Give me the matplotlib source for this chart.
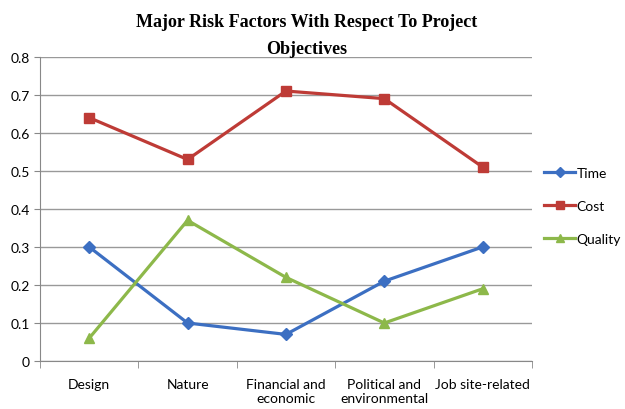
import matplotlib.pyplot as plt

categories = ['Design', 'Nature', 'Financial and\neconomic', 'Political and\nenvironmental', 'Job site-related']
time_vals = [0.30, 0.10, 0.07, 0.21, 0.30]
cost_vals = [0.64, 0.53, 0.71, 0.69, 0.51]
quality_vals = [0.06, 0.37, 0.22, 0.10, 0.19]

plt.rcParams['font.family'] = ['Lato', 'DejaVu Sans']

fig = plt.figure(figsize=(6.25, 4.10), dpi=100)
ax = fig.add_axes([0.064, 0.117, 0.787, 0.742])

x = list(range(len(categories)))
ax.plot(x, time_vals, color='#3C6FC2', marker='D', markersize=6, linewidth=2.3, label='Time')
ax.plot(x, cost_vals, color='#BE3B36', marker='s', markersize=7, linewidth=2.3, label='Cost')
ax.plot(x, quality_vals, color='#8DB84A', marker='^', markersize=7, linewidth=2.3, label='Quality')

ax.set_xlim(-0.5, len(categories) - 0.5)
ax.set_ylim(0, 0.8)
ax.set_yticks([0, 0.1, 0.2, 0.3, 0.4, 0.5, 0.6, 0.7, 0.8])
ax.set_yticklabels(['0', '0.1', '0.2', '0.3', '0.4', '0.5', '0.6', '0.7', '0.8'])
ax.set_xticks(x)
ax.set_xticklabels(categories)
ax.set_xticks([i - 0.5 for i in range(len(categories) + 1)], minor=True)
ax.tick_params(axis='x', which='major', length=0, pad=12, labelsize=10)
ax.tick_params(axis='x', which='minor', length=5, color='#888888')
ax.tick_params(axis='y', length=4, color='#888888', labelsize=10)
ax.yaxis.grid(True, color='#999999', linewidth=1)
ax.set_axisbelow(True)
for s in ['top', 'right']:
    ax.spines[s].set_visible(False)
ax.spines['left'].set_color('#888888')
ax.spines['bottom'].set_color('#888888')

fig.text(0.49, 0.965, 'Major Risk Factors With Respect To Project\nObjectives', ha='center', va='top',
         fontsize=13, fontweight='bold', family='Liberation Serif', linespacing=1.75)

ax.legend(loc='center left', bbox_to_anchor=(1.0, 0.51), frameon=False, fontsize=10,
          handlelength=2.2, labelspacing=1.5, handletextpad=0.1, markerscale=0.8)

fig.savefig('out.png')
